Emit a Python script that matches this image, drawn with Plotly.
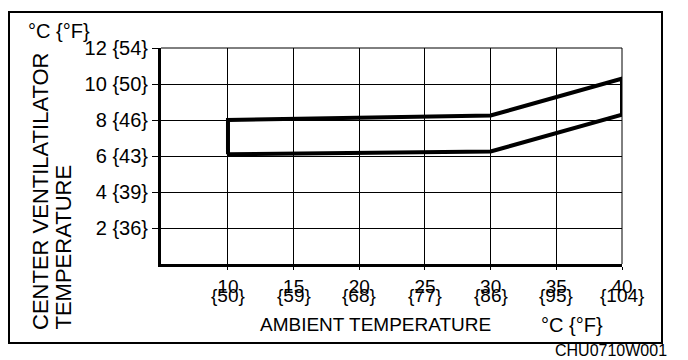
import plotly.graph_objects as go

# ---- data ----
ambient_c = [10, 15, 20, 25, 30, 35, 40]
ambient_f = [50, 59, 68, 77, 86, 95, 104]
vent_c = [2, 4, 6, 8, 10, 12]
vent_f = [36, 39, 43, 46, 50, 54]

band_x = [10, 30, 40]
band_upper = [8.0, 8.25, 10.3]
band_lower = [6.1, 6.25, 8.3]

# ---- layout geometry ----
W, H = 688, 360
OFF = 8                      # page body margin
# plot area in page pixels
L_IMG, R_IMG, T_IMG, B_IMG = 161, 622, 48, 264
L, R, T, B = L_IMG - OFF, R_IMG - OFF, T_IMG - OFF, B_IMG - OFF
FONT = "Liberation Sans, Arial, Helvetica, sans-serif"


def px(x_img):
    return (x_img - OFF - L) / (R - L)


def py(y_img):
    return (B - (y_img - OFF)) / (B - T)


poly_x = [band_x[0]] + band_x + band_x[::-1]
poly_y = [band_lower[0]] + band_upper + band_lower[::-1]

fig = go.Figure()
fig.add_trace(go.Scatter(
    x=poly_x, y=poly_y, mode="lines",
    line=dict(color="black", width=4),
    hoverinfo="skip", showlegend=False,
))

fig.update_layout(
    width=W, height=H,
    margin=dict(l=L, r=W - R, t=T, b=H - B, pad=0),
    paper_bgcolor="white", plot_bgcolor="white",
    font=dict(family=FONT, size=19, color="black"),
    showlegend=False,
    xaxis=dict(
        range=[4.9, 40], tickvals=ambient_c,
        ticktext=[str(v) for v in ambient_c],
        ticks="outside", ticklen=3, tickcolor="black", tickwidth=1,
        showgrid=True, gridcolor="black", gridwidth=1,
        showline=True, linecolor="black", linewidth=3,
        zeroline=False, tickfont=dict(size=19),
    ),
    yaxis=dict(
        range=[0, 12], tickvals=vent_c,
        ticktext=[f"{c} {{{f}}}" for c, f in zip(vent_c, vent_f)],
        ticks="outside", ticklen=6, tickcolor="black", tickwidth=1,
        showgrid=True, gridcolor="black", gridwidth=1,
        showline=True, linecolor="black", linewidth=3,
        zeroline=False, tickfont=dict(size=20),
    ),
)

annotations = []
for c, f in zip(ambient_c, ambient_f):
    annotations.append(dict(
        x=c, xref="x", y=py(295), yref="paper", text=f"{{{f}}}",
        showarrow=False, xanchor="center", yanchor="middle",
        font=dict(size=19),
    ))


def note(text, x, y, size, **kw):
    d = dict(x=px(x), y=py(y), xref="paper", yref="paper", text=text,
             showarrow=False, xanchor="center", yanchor="middle",
             font=dict(size=size))
    d.update(kw)
    return d


annotations += [
    note("CENTER VENTILATILATOR", 40, 332, 22, textangle=-90, yanchor="bottom"),
    note("TEMPERATURE", 63, 332, 22, textangle=-90, yanchor="bottom"),
    note("°C {°F}", 59, 31, 20),
    note("AMBIENT TEMPERATURE", 375, 324, 19),
    note("°C {°F}", 572, 325, 20),
    note("CHU0710W001", 611, 350, 16),
]
fig.update_layout(annotations=annotations)

# outer frame
fig.add_shape(type="rect", xref="paper", yref="paper",
              x0=px(9), x1=px(662), y0=py(343), y1=py(12),
              line=dict(color="black", width=2), layer="below")
# top and right borders of plot area
fig.add_shape(type="line", xref="paper", yref="paper",
              x0=0, x1=1, y0=1, y1=1, line=dict(color="black", width=1))
fig.add_shape(type="line", xref="paper", yref="paper",
              x0=1, x1=1, y0=0, y1=1, line=dict(color="black", width=1))

fig.write_html("out.html", config={"displayModeBar": False})
